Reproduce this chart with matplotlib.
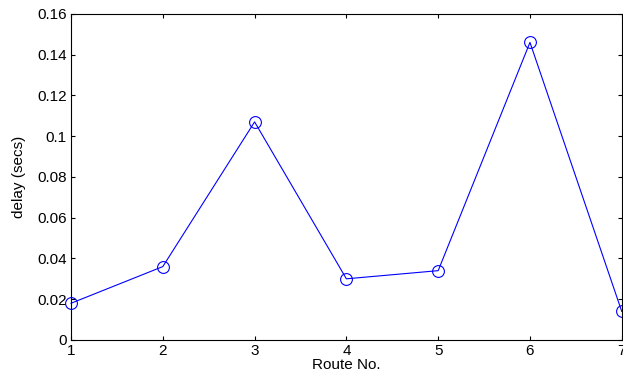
import numpy as np
import matplotlib
matplotlib.use("Agg")
import matplotlib.pyplot as plt

route = [1, 2, 3, 4, 5, 6, 7]
delay = [0.018, 0.036, 0.107, 0.030, 0.034, 0.146, 0.014]

plt.rcParams['font.family'] = ['Liberation Sans', 'DejaVu Sans']

fig = plt.figure(figsize=(6.23, 3.85), dpi=100)
ax = fig.add_axes([0.114, 0.117, 0.884, 0.847])

ax.plot(route, delay, color='#0000ff', linewidth=0.8, marker='o',
        markersize=8.5, markerfacecolor='none', markeredgecolor='#0000ff',
        markeredgewidth=0.8, clip_on=False)

ax.set_xlim(1, 7)
ax.set_ylim(0, 0.16)
ax.set_xticks(route)
ax.set_yticks(np.arange(0, 0.161, 0.02))
ax.set_yticklabels(['0', '0.02', '0.04', '0.06', '0.08', '0.1', '0.12', '0.14', '0.16'])
ax.tick_params(direction='in', top=True, right=True, length=3, width=0.8,
               labelsize=11, pad=3)
for s in ax.spines.values():
    s.set_linewidth(0.8)

ax.set_xlabel('Route No.', fontsize=11, labelpad=0)
ax.set_ylabel('delay (secs)', fontsize=11, labelpad=8)

fig.savefig('out.png', dpi=100)
